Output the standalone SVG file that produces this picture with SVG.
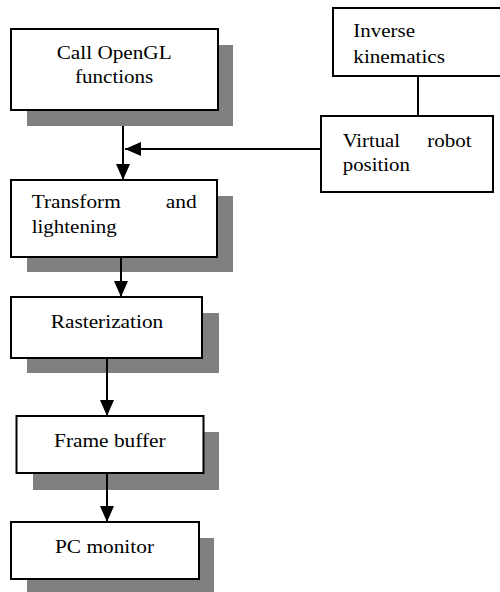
<svg xmlns="http://www.w3.org/2000/svg" width="500" height="592" viewBox="0 0 500 592">
  <style>
    .shadow { fill: #808080; stroke: none; }
    .box { fill: #ffffff; stroke: #000000; stroke-width: 2; }
    .label { font-family: "Liberation Serif", "Times New Roman", serif; font-size: 19px; fill: #000000; }
    .link { fill: none; stroke: #000000; stroke-width: 2; }
  </style>
  <defs>
    <marker id="arrow" markerUnits="userSpaceOnUse" markerWidth="16" markerHeight="14" refX="16" refY="7" orient="auto">
      <path d="M0,0 L16,7 L0,14 Z" fill="#000000"/>
    </marker>
  </defs>

  <rect width="500" height="592" fill="#ffffff"/>

  <g id="call-opengl">
    <rect class="shadow" x="27" y="45" width="206" height="81"/>
    <rect class="box" x="11" y="29" width="207" height="81"/>
    <text class="label" x="56.7" y="59.3" textLength="115" lengthAdjust="spacingAndGlyphs">Call OpenGL</text>
    <text class="label" x="75" y="82.7" textLength="78.3" lengthAdjust="spacingAndGlyphs">functions</text>
  </g>

  <g id="transform">
    <rect class="shadow" x="27" y="196" width="206" height="76"/>
    <rect class="box" x="11" y="180" width="206" height="77"/>
    <text class="label" x="31.7" y="208.3" textLength="89" lengthAdjust="spacingAndGlyphs">Transform</text>
    <text class="label" x="165.7" y="208.3" textLength="31" lengthAdjust="spacingAndGlyphs">and</text>
    <text class="label" x="31.7" y="233.3" textLength="85" lengthAdjust="spacingAndGlyphs">lightening</text>
  </g>

  <g id="rasterization">
    <rect class="shadow" x="27" y="313" width="192" height="60"/>
    <rect class="box" x="11" y="297" width="191" height="61"/>
    <text class="label" x="50.7" y="328.3" textLength="112.6" lengthAdjust="spacingAndGlyphs">Rasterization</text>
  </g>

  <g id="frame-buffer">
    <rect class="shadow" x="33" y="432" width="186" height="58"/>
    <rect class="box" x="16.5" y="416" width="187" height="57"/>
    <text class="label" x="54" y="446.7" textLength="111.7" lengthAdjust="spacingAndGlyphs">Frame buffer</text>
  </g>

  <g id="pc-monitor">
    <rect class="shadow" x="27" y="538" width="187" height="57"/>
    <rect class="box" x="11" y="522" width="188" height="57"/>
    <text class="label" x="55" y="553.3" textLength="99" lengthAdjust="spacingAndGlyphs">PC monitor</text>
  </g>

  <g id="inverse-kinematics">
    <rect class="box" x="333" y="8" width="170" height="68"/>
    <text class="label" x="353.3" y="37.3" textLength="61.7" lengthAdjust="spacingAndGlyphs">Inverse</text>
    <text class="label" x="353.3" y="63.3" textLength="91.7" lengthAdjust="spacingAndGlyphs">kinematics</text>
  </g>

  <g id="virtual-robot">
    <rect class="box" x="321" y="116" width="172" height="76"/>
    <text class="label" x="342.7" y="146.7" textLength="57.3" lengthAdjust="spacingAndGlyphs">Virtual</text>
    <text class="label" x="427.3" y="146.7" textLength="44.4" lengthAdjust="spacingAndGlyphs">robot</text>
    <text class="label" x="342.7" y="170.7" textLength="67.3" lengthAdjust="spacingAndGlyphs">position</text>
  </g>

  <g id="connectors">
    <line class="link" x1="123" y1="126" x2="123" y2="180" marker-end="url(#arrow)"/>
    <line class="link" x1="321" y1="149" x2="125" y2="149" marker-end="url(#arrow)"/>
    <line class="link" x1="418" y1="76" x2="418" y2="116"/>
    <line class="link" x1="121" y1="257" x2="121" y2="297" marker-end="url(#arrow)"/>
    <line class="link" x1="107" y1="358" x2="107" y2="416" marker-end="url(#arrow)"/>
    <line class="link" x1="107" y1="473" x2="107" y2="522" marker-end="url(#arrow)"/>
  </g>
</svg>
